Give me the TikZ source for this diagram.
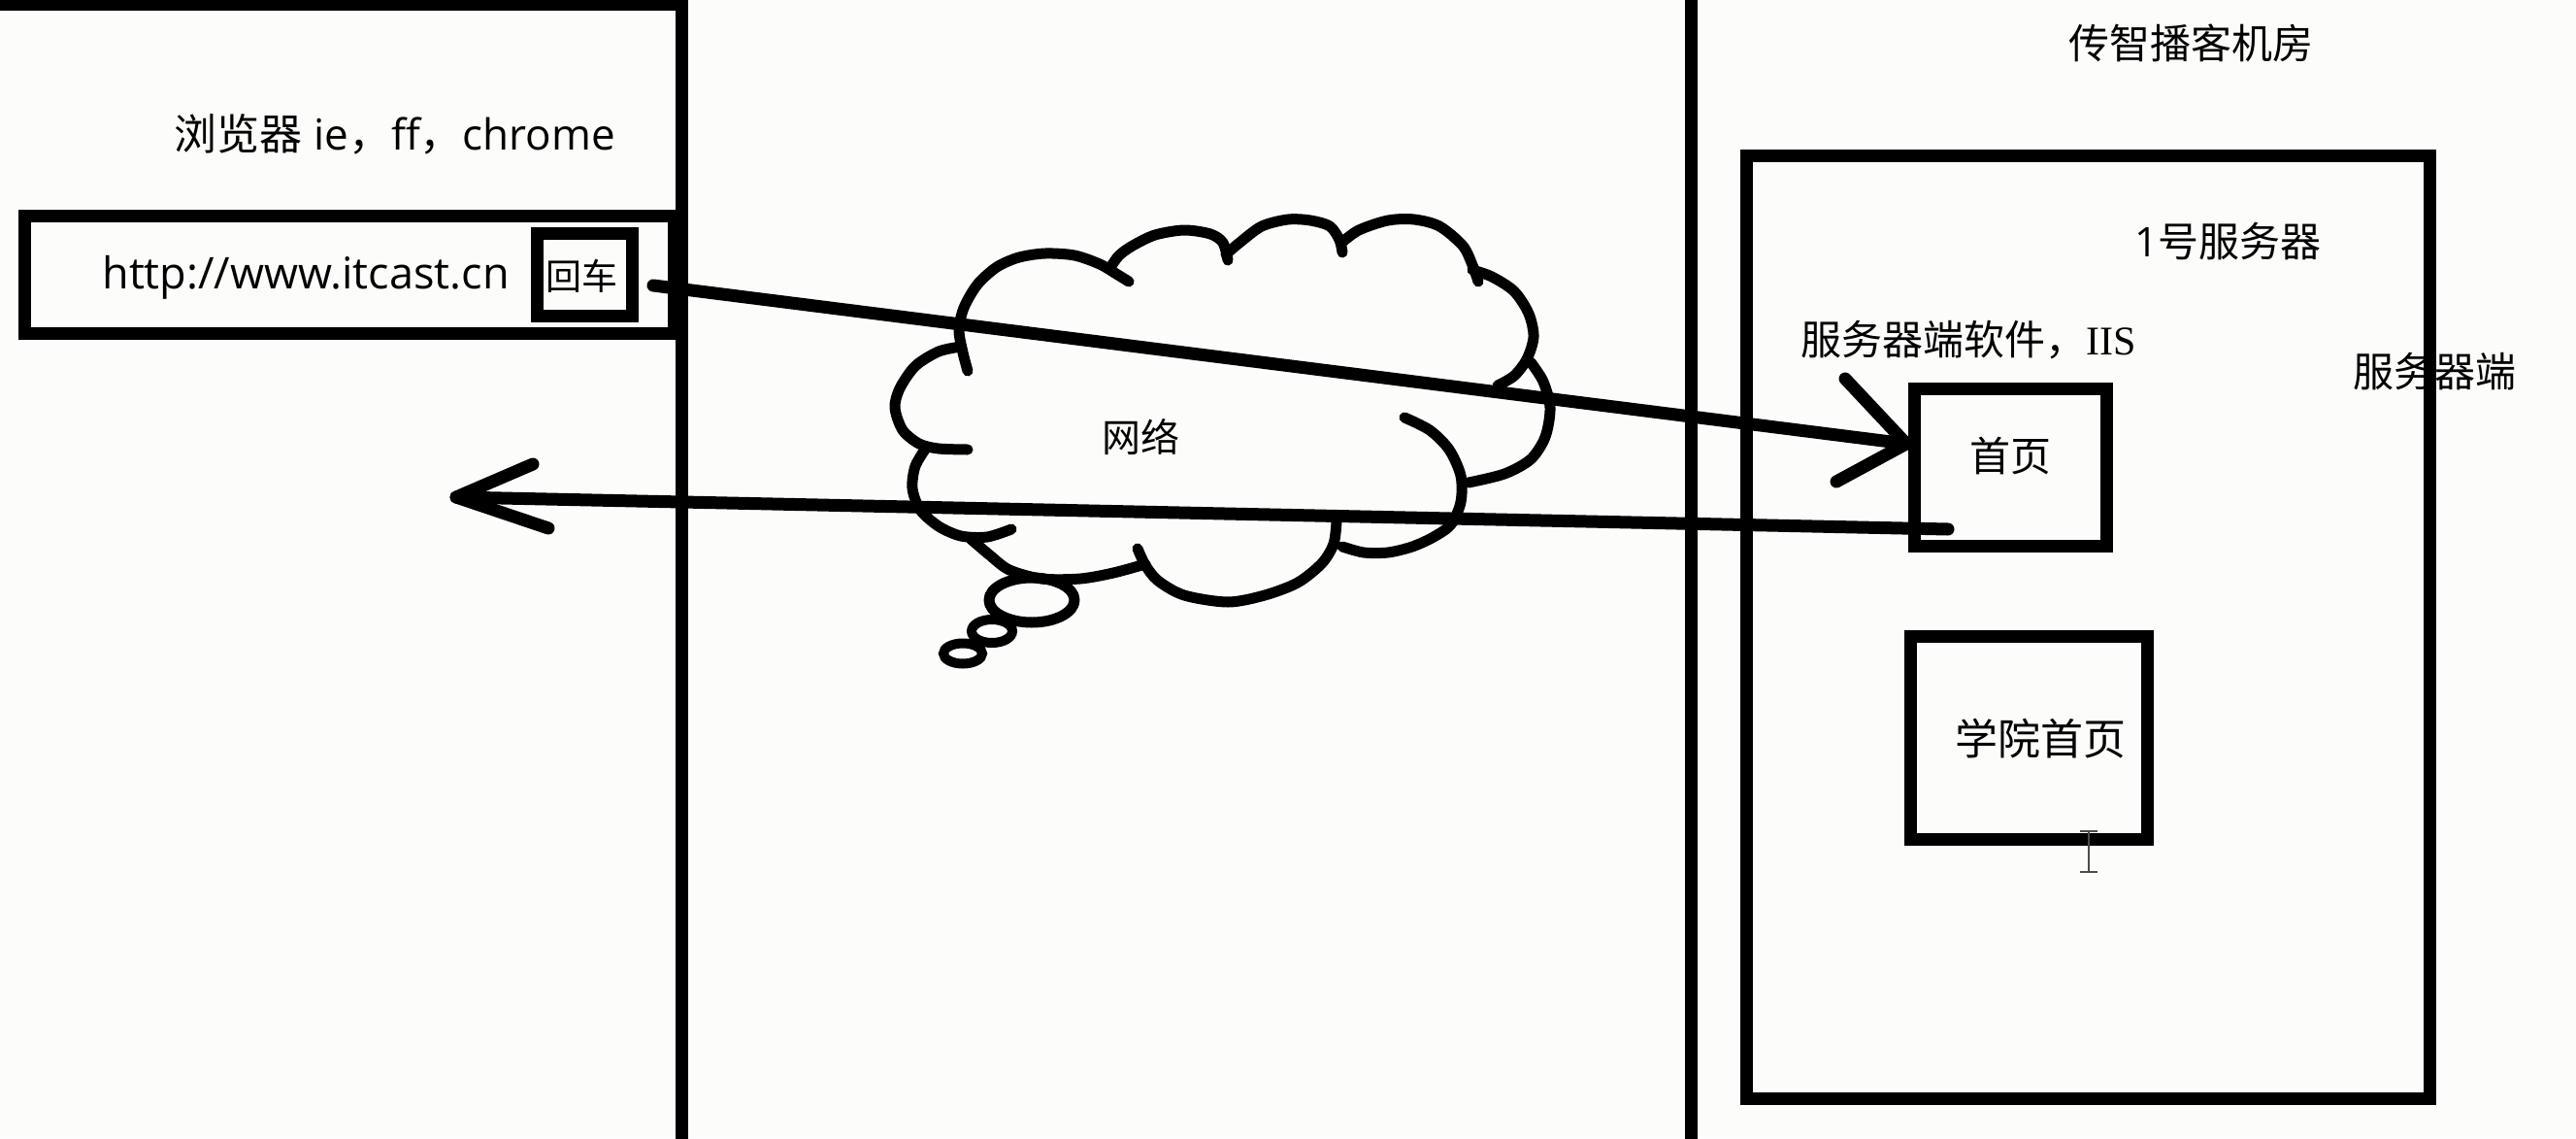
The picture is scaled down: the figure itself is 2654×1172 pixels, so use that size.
\documentclass[tikz,border=0pt]{standalone}
\usepackage{fontspec}
\setmainfont{Open Sans}
\newfontfamily\cjk{Noto Sans CJK SC}
\newfontfamily\serifI{Liberation Serif}
\newcommand\zh[1]{{\cjk #1}}
\definecolor{bgpaper}{RGB}{252,253,250}
\begin{document}
\begin{tikzpicture}[x=1pt,y=-1pt,
  boxnode/.style={draw=black, line width=13pt, inner sep=0pt, outer sep=0pt, rectangle},
  lbl/.style={inner sep=0pt, outer sep=0pt, font=\fontsize{42}{48}\selectfont},
  wire/.style={line width=13pt, line cap=round, line join=round},
  cloudline/.style={line width=11pt, line cap=round, line join=round}]
\useasboundingbox (0,0) rectangle (2654,1172);
\fill[bgpaper] (0,0) rectangle (2654,1172);

% panels
\draw[line width=13pt] (-20,5) -| (702,1200);
\draw[line width=13pt] (1742,-20) -- (1742,1200);

% boxes
\node[boxnode, minimum width=669pt, minimum height=121pt] (urlbar) at (359.5,282.5) {};
\node[boxnode, minimum width=98pt, minimum height=85pt] (enter) at (602,282.5) {};
\node[boxnode, minimum width=704pt, minimum height=971pt] (server) at (2151,645.5) {};
\node[boxnode, minimum width=198pt, minimum height=162pt] (home) at (2071,481) {};
\node[boxnode, minimum width=244pt, minimum height=209pt] (college) at (2090,759.5) {};

% labels
\node[lbl, font=\fontsize{44}{50}\selectfont] (browser) at (407,138) {\zh{浏览器} ie\zh{，}ff\zh{，}chrome};
\node[lbl, font=\fontsize{45}{50}\selectfont] (url) at (315,286) {http://www.itcast.cn};
\node[lbl, font=\fontsize{37}{42}\selectfont] (entertxt) at (599,284) {\zh{回车}};
\node[lbl, font=\fontsize{40}{46}\selectfont] (net) at (1175,450) {\zh{网络}};
\node[lbl] (room) at (2257,44) {\zh{传智播客机房}};
\node[lbl] (srv1) at (2295,249) {1\zh{号服务器}};
\node[lbl] (iis) at (2028,350) {\zh{服务器端软件，}{\serifI IIS}};
\node[lbl] (side) at (2508,383) {\zh{服务器端}};
\node[lbl] (hometxt) at (2071,470) {\zh{首页}};
\node[lbl, font=\fontsize{44}{50}\selectfont] (collegetxt) at (2102,761) {\zh{学院首页}};

% server box right edge over the label
\draw[line width=13pt] (2503,340) -- (2503,430);

% arrows
\coordinate (a1s) at (673,294);
\coordinate (a1t) at (1964,457);
\draw[wire] (a1s) -- (a1t);
\draw[wire] (1901,390) -- (a1t) -- (1892,496);
\coordinate (a2s) at (2007,545);
\coordinate (a2t) at (470,512);
\draw[wire] (a2s) -- (a2t);
\draw[wire] (549,478) -- (a2t) -- (565,544);

% cloud lobes
\draw[cloudline] plot[smooth] coordinates {(997,382) (992,363) (988,340) (993,317) (1007,293) (1027,275) (1050,265) (1077,261) (1107,263) (1133,272) (1150,282) (1163,290)};
\draw[cloudline] plot[smooth] coordinates {(1145,274) (1153,263) (1167,253) (1190,242) (1220,237) (1247,241) (1260,250) (1265,268)};
\draw[cloudline] plot[smooth] coordinates {(1263,262) (1277,250) (1300,233) (1327,226) (1350,227) (1370,233) (1380,247) (1383,260)};
\draw[cloudline] plot[smooth] coordinates {(1382,250) (1400,237) (1430,227) (1457,226) (1483,233) (1507,253) (1517,273) (1523,290)};
\draw[cloudline] plot[smooth] coordinates {(1517,278) (1537,285) (1560,300) (1575,323) (1580,347) (1573,370) (1560,387) (1543,397)};
\draw[cloudline] plot[smooth] coordinates {(1577,373) (1590,393) (1597,420) (1592,450) (1577,473) (1550,488) (1513,497)};
\draw[cloudline] plot[smooth] coordinates {(1447,430) (1473,443) (1493,463) (1505,490) (1505,517) (1495,540) (1477,553) (1455,563) (1430,569) (1405,569) (1383,563)};
\draw[cloudline] plot[smooth] coordinates {(1377,537) (1374,560) (1362,580) (1337,600) (1303,613) (1265,620) (1220,613) (1193,598) (1180,582) (1172,565)};
\draw[cloudline] plot[smooth] coordinates {(1000,555) (1020,572) (1040,587) (1073,596) (1113,596) (1147,590) (1180,581)};
\draw[cloudline] plot[smooth] coordinates {(955,460) (943,480) (940,503) (948,525) (967,542) (990,552) (1017,553) (1042,545)};
\draw[cloudline] plot[smooth] coordinates {(990,357) (967,362) (943,377) (927,400) (922,420) (930,443) (947,457) (967,462) (997,463)};
% thought bubbles
\draw[cloudline] (1063,618) ellipse [x radius=44, y radius=23];
\draw[line width=10pt] (1022,650) ellipse [x radius=21, y radius=12];
\draw[line width=10pt] (992,673) ellipse [x radius=20, y radius=10.5];

% text cursor
\draw[line width=2.5pt, black!70] (2152,857) -- (2152,897);
\draw[line width=2.5pt, black!70] (2143,856) -- (2161,856) (2143,898) -- (2161,898);
\end{tikzpicture}
\end{document}
